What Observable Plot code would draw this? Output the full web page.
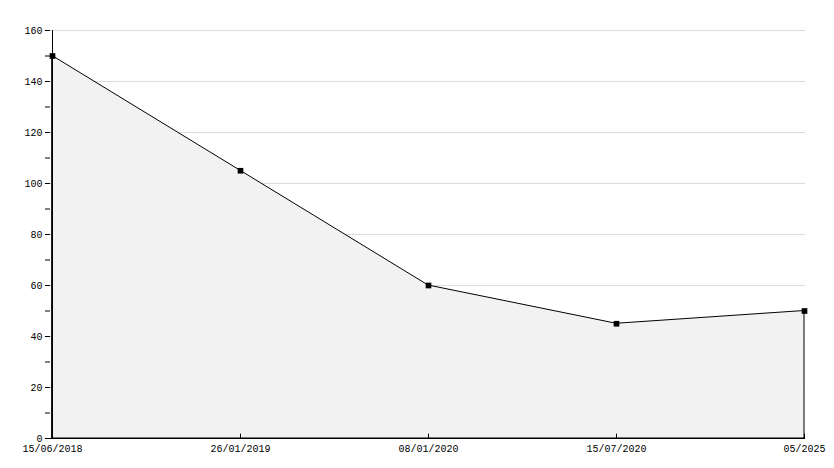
<!DOCTYPE html>
<html><head><meta charset="utf-8">
<script src="https://cdn.jsdelivr.net/npm/d3@7"></script>
<script src="https://cdn.jsdelivr.net/npm/@observablehq/plot@0.6"></script>
<style>body{margin:0;background:#fff}</style>
</head><body><div id="chart"></div>
<script>
const categories = ["15/06/2018", "26/01/2019", "08/01/2020", "15/07/2020", "05/2025"];
const values = [150, 105, 60, 45, 50];
const yTicks = [0, 10, 20, 30, 40, 50, 60, 70, 80, 90, 100, 110, 120, 130, 140, 150, 160];
const gridTicks = [20, 40, 60, 80, 100, 120, 140, 160];
const data = categories.map((c, i) => ({c, v: values[i]}));

const chart = Plot.plot({
  width: 834, height: 468,
  marginLeft: 50, marginRight: 29, marginTop: 30, marginBottom: 30,
  style: {fontFamily: "'Liberation Mono', 'DejaVu Sans Mono', monospace", fontSize: "10px", color: "#000", background: "#fff"},
  x: {type: "point", domain: categories, padding: 0},
  y: {domain: [0, 160]},
  marks: [
    Plot.ruleY(gridTicks, {stroke: "#dcdcdc", strokeWidth: 1}),
    Plot.areaY(data, {x: "c", y: "v", fill: "#f2f2f2", stroke: "#000", strokeWidth: 1, curve: "linear"}),
    Plot.ruleX([categories[0]], {y1: 0, y2: 160, stroke: "#000"}),
    Plot.ruleY([0], {stroke: "#000"}),
    Plot.ruleX(categories, {x: d => d, y1: 0, y2: 1.7, stroke: "#000"}),
    Plot.axisY({ticks: yTicks, tickFormat: d => d % 20 === 0 ? String(d) : "", tickSize: 5, tickPadding: 3, label: null}),
    Plot.axisX({tickSize: 0, tickPadding: 6, label: null}),
    Plot.dot(data, {x: "c", y: "v", symbol: "square", r: 3.2, fill: "#000"})
  ]
});
document.getElementById("chart").appendChild(chart);
</script></body></html>
